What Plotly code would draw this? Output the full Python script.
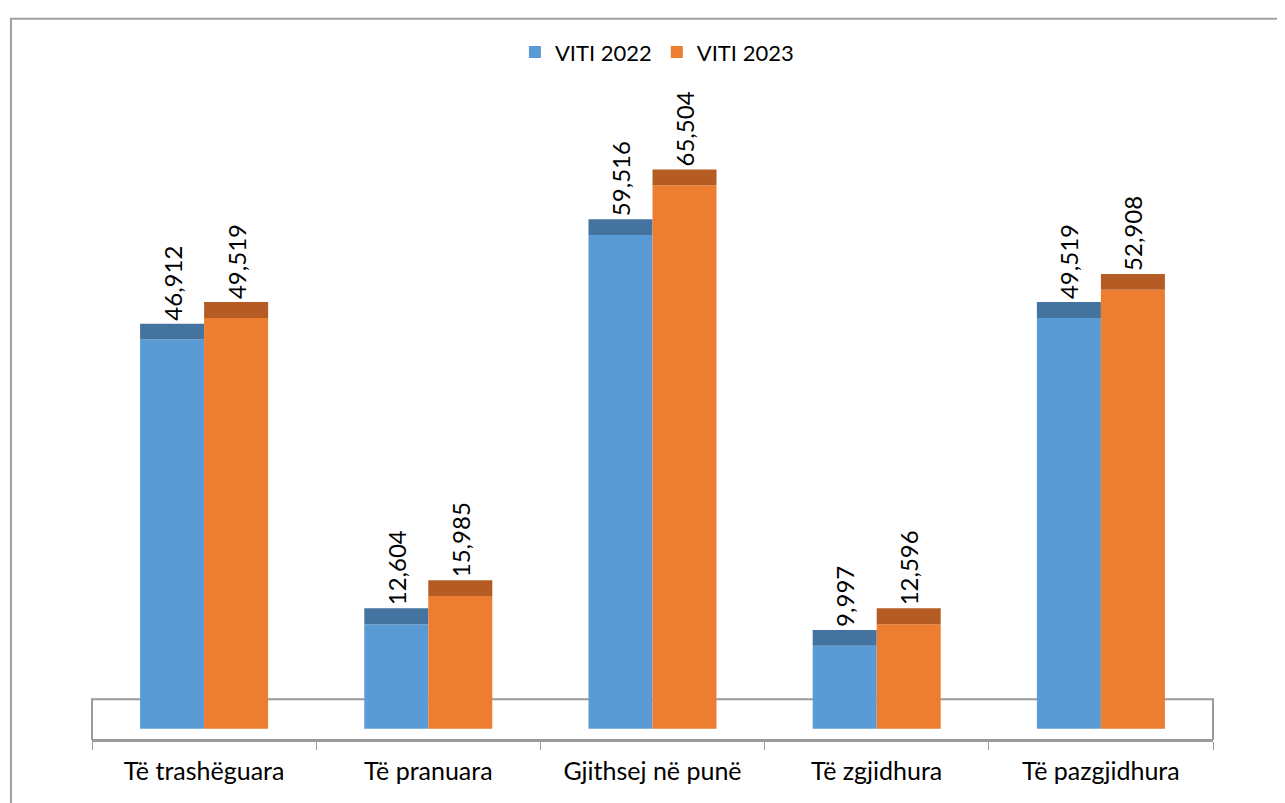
import plotly.graph_objects as go

categories = ["Të trashëguara", "Të pranuara", "Gjithsej në punë", "Të zgjidhura", "Të pazgjidhura"]
viti_2022 = [46912, 12604, 59516, 9997, 49519]
viti_2023 = [49519, 15985, 65504, 12596, 52908]
series_names = ["VITI 2022", "VITI 2023"]

# style
BLUE, BLUE_TOP = "#5B9BD5", "#44739F"
ORANGE, ORANGE_TOP = "#ED7D31", "#B45C23"
CAP = 1914          # height of the 3D top face, in data units
Y_MIN, Y_MAX = -1364, 77584
FLOOR_TOP = 3541
FONT = "Lato"

def fmt(v):
    return f"{v:,}"

fig = go.Figure()
for name, vals, col, top, grp in [
    (series_names[0], viti_2022, BLUE, BLUE_TOP, "a"),
    (series_names[1], viti_2023, ORANGE, ORANGE_TOP, "b"),
]:
    fig.add_trace(go.Bar(
        x=categories, y=vals, name=name, offsetgroup=grp,
        marker=dict(color=col, line=dict(width=0)),
        hoverinfo="x+y",
    ))
    fig.add_trace(go.Bar(
        x=categories, y=[CAP] * len(vals), base=vals, offsetgroup=grp,
        showlegend=False,
        marker=dict(color=top, line=dict(width=0)),
        text=[fmt(v) for v in vals], textposition="outside", textangle=-90,
        constraintext="none", cliponaxis=False,
        textfont=dict(family=FONT, size=24, color="#000000"),
        hoverinfo="skip",
    ))

# floor (3D floor seen edge-on)
fig.add_shape(type="rect", xref="paper", yref="y", x0=0, x1=1, y0=Y_MIN, y1=FLOOR_TOP,
              line=dict(color="#9A9A9A", width=2), fillcolor="rgba(0,0,0,0)", layer="below")
# outer chart border
fig.add_shape(type="rect", xref="paper", yref="paper", x0=-0.0723, x1=1.3, y0=-0.3, y1=1.1015,
              line=dict(color="#A0A0A0", width=2), fillcolor="rgba(0,0,0,0)", layer="below")

fig.update_layout(
    width=1285, height=803,
    margin=dict(l=84, r=80, t=72, b=71),
    paper_bgcolor="white", plot_bgcolor="white",
    barmode="group", bargap=0.429, bargroupgap=0,
    font=dict(family=FONT, size=22, color="#000000"),
    showlegend=True,
    legend=dict(orientation="h", xref="container", yref="container",
                x=0.505, xanchor="center", y=0.945, yanchor="middle",
                font=dict(family=FONT, size=22), itemwidth=30, traceorder="normal"),
    xaxis=dict(type="category", showline=True, linecolor="#9A9A9A", linewidth=2,
               ticks="outside", tickson="boundaries", ticklen=8, tickcolor="#9A9A9A",
               tickwidth=1, showgrid=False, ticklabelstandoff=8,
               tickfont=dict(family=FONT, size=25)),
    yaxis=dict(range=[Y_MIN, Y_MAX], visible=False, showgrid=False, zeroline=False),
)

fig.write_html("out.html")
